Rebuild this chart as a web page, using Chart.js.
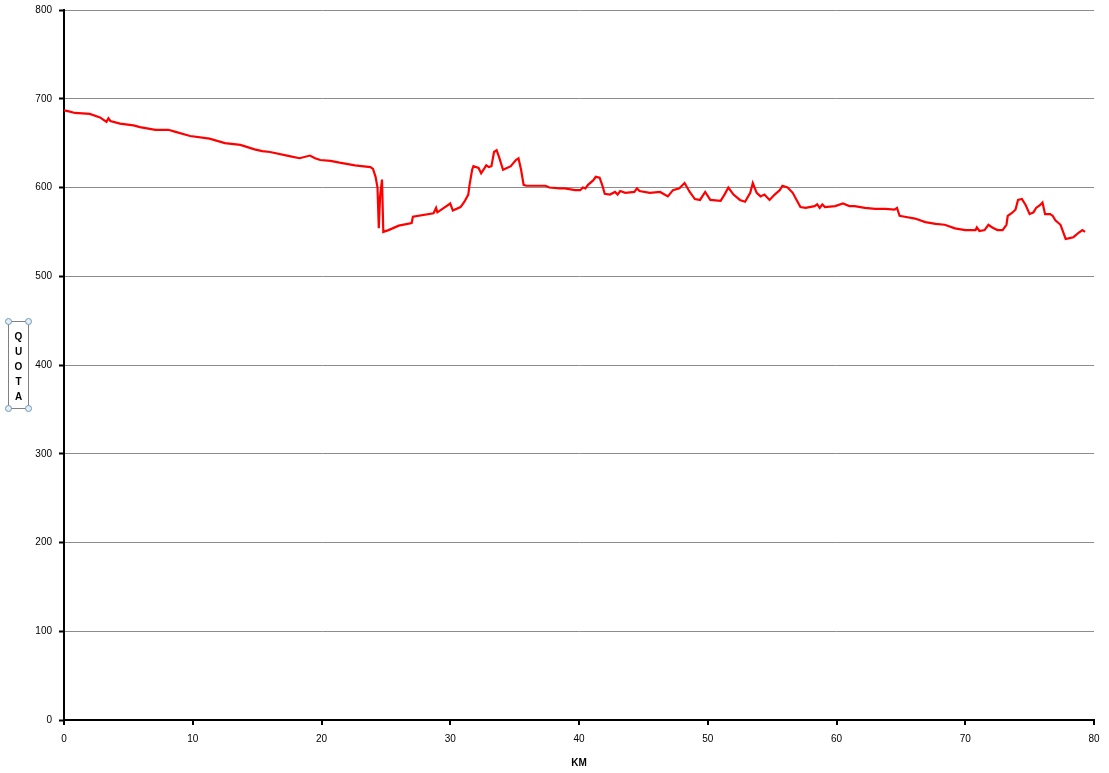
<!DOCTYPE html>
<html>
<head>
<meta charset="utf-8">
<script src="https://cdn.jsdelivr.net/npm/chart.js@4"></script>
<style>
  html, body { margin: 0; padding: 0; background: #fff; }
  #wrap { width: 1109px; height: 773px; position: relative; }
</style>
</head>
<body>
<div id="wrap"><canvas id="profileChart"></canvas></div>
<script>
// distance along route (km)
const km = [
  0, 0.3, 0.85, 2.0, 2.8, 3.3, 3.45, 3.6, 4.35, 5.4, 5.9, 7.1, 8.1, 8.6, 9.8, 11.3, 12.5, 13.7,
  14.8, 15.4, 16.0, 17.6, 18.3, 19.1, 19.5, 19.9, 20.7, 21.4, 22.6, 23.8, 24.0, 24.2, 24.35,
  24.45, 24.55, 24.7, 24.8, 25.2, 26.0, 27.0, 27.1, 28.7, 28.9, 29.0, 30.0, 30.2, 30.8,
  31.1, 31.4, 31.5, 31.7, 31.8, 32.2, 32.4, 32.8, 33.0, 33.2, 33.4, 33.6, 33.8, 34.1, 34.4,
  34.7, 35.1, 35.3, 35.5, 35.7, 35.9, 36.6, 37.4, 37.7, 38.5, 38.9, 39.7, 40.1, 40.3, 40.5,
  40.7, 41.1, 41.3, 41.6, 41.8, 42.0, 42.4, 42.8, 43.0, 43.2, 43.6, 44.3, 44.5, 44.7, 45.5,
  46.3, 46.9, 47.3, 47.8, 48.2, 48.6, 49.0, 49.4, 49.8, 50.2, 51.0, 51.3, 51.6, 52.0, 52.5,
  52.9, 53.3, 53.5, 53.8, 54.1, 54.4, 54.8, 55.2, 55.6, 55.8, 56.2, 56.6, 56.9, 57.2, 57.6,
  58.3, 58.5, 58.7, 58.9, 59.1, 59.9, 60.5, 61.0, 61.4, 62.2, 63.0, 63.8, 64.5, 64.7, 64.9,
  65.3, 66.1, 66.9, 67.7, 68.4, 69.2, 70.0, 70.8, 70.9, 71.1, 71.5, 71.8, 72.1, 72.5, 72.9,
  73.2, 73.3, 73.6, 73.9, 74.1, 74.4, 74.7, 75.0, 75.3, 75.5, 75.8, 76.0, 76.2, 76.6, 76.8,
  77.0, 77.4, 77.6, 77.8, 78.1, 78.4, 78.8, 79.1, 79.3
];
// elevation (m)
const quota = [
  687, 686, 684, 683, 679, 674, 678, 675, 672, 670, 668, 665, 665, 663, 658, 655, 650, 648,
  643, 641, 640, 635, 633, 636, 633, 631, 630, 628, 625, 623, 621, 612, 600,
  554, 590, 609, 550, 552, 557, 560, 567, 571, 577, 572, 582, 574, 578,
  584, 592, 603, 620, 624, 622, 616, 625, 623, 624, 640, 642, 634, 620, 622,
  624, 631, 633, 620, 603, 602, 602, 602, 600, 599, 599, 597, 597, 600, 599,
  603, 608, 612, 611, 603, 593, 592, 595, 592, 596, 594, 595, 599, 596, 594,
  595, 590, 597, 599, 605, 595, 587, 586, 595, 586, 585, 592, 600, 592, 586,
  584, 594, 605, 594, 590, 592, 586, 592, 597, 602, 600, 594, 586, 578, 577,
  579, 581, 577, 581, 578, 579, 582, 579, 579, 577, 576, 576, 575, 577, 568,
  567, 565, 561, 559, 558, 554, 552, 552, 555, 551, 552, 558, 555, 552, 552,
  558, 568, 571, 575, 586, 587, 580, 570, 572, 577, 580, 583, 570, 570, 568,
  563, 558, 550, 542, 543, 544, 549, 552, 550
];
const yTicks = [0, 100, 200, 300, 400, 500, 600, 700, 800];
const xTicks = [0, 10, 20, 30, 40, 50, 60, 70, 80];
const yTitle = ['Q', 'U', 'O', 'T', 'A'];

const points = km.map((k, i) => ({ x: k, y: quota[i] }));

// Excel-style vertical text box for the y title
const quotaBox = {
  id: 'quotaBox',
  afterDraw(chart) {
    const c = chart.ctx;
    c.save();
    c.strokeStyle = '#808080';
    c.lineWidth = 1;
    c.strokeRect(8.5, 321.5, 20, 87);
    c.fillStyle = '#000';
    c.font = 'bold 10px "Liberation Sans", Arial, sans-serif';
    c.textAlign = 'center';
    c.textBaseline = 'middle';
    yTitle.forEach((ch, i) => c.fillText(ch, 18.5, 337 + i * 15));
    c.strokeStyle = '#6c98b8';
    c.fillStyle = '#e6eef5';
    [[8.5, 321.5], [28.5, 321.5], [8.5, 408.5], [28.5, 408.5]].forEach(([x, y]) => {
      c.beginPath();
      c.arc(x, y, 3, 0, Math.PI * 2);
      c.fill();
      c.stroke();
    });
    c.restore();
  }
};

const ctx = document.getElementById('profileChart').getContext('2d');
const profileChart = new Chart(ctx, {
    type: 'line',
    data: {
        datasets: [{
            label: 'QUOTA',
            data: points,
            borderColor: '#ff0000',
            borderWidth: 2.2,
            pointRadius: 0,
            tension: 0,
            fill: false
        }]
    },
    options: {
        responsive: true,
        maintainAspectRatio: false,
        animation: false,
        layout: { padding: { top: 10, right: 15, left: 0, bottom: 0 } },
        plugins: {
            legend: { display: false },
            tooltip: { enabled: false }
        },
        scales: {
            x: {
                type: 'linear',
                min: 0,
                max: 80,
                afterBuildTicks: s => { s.ticks = xTicks.map(v => ({ value: v })); },
                afterFit: s => { s.height = 53; },
                border: { color: '#000', width: 2 },
                grid: { drawOnChartArea: false, drawTicks: true, tickLength: 5, color: '#000', lineWidth: 2 },
                ticks: { color: '#000', padding: 8, maxRotation: 0, font: { size: 10, family: '"Liberation Sans", Arial, sans-serif' } },
                title: { display: true, text: 'KM', color: '#000', padding: { top: 4 }, font: { size: 10, weight: 'bold', family: '"Liberation Sans", Arial, sans-serif' } }
            },
            y: {
                min: 0,
                max: 800,
                afterBuildTicks: s => { s.ticks = yTicks.map(v => ({ value: v })); },
                afterFit: s => { s.width = 64; s.paddingTop = 0; s.paddingBottom = 0; },
                border: { color: '#000', width: 2 },
                grid: {
                    color: '#8c8c8c',
                    lineWidth: 1,
                    tickLength: 5,
                    tickColor: '#000',
                    tickWidth: 2
                },
                ticks: { color: '#000', padding: 7, font: { size: 10, lineHeight: 0.5, family: '"Liberation Sans", Arial, sans-serif' } }
            }
        }
    },
    plugins: [quotaBox]
});
</script>
</body>
</html>
